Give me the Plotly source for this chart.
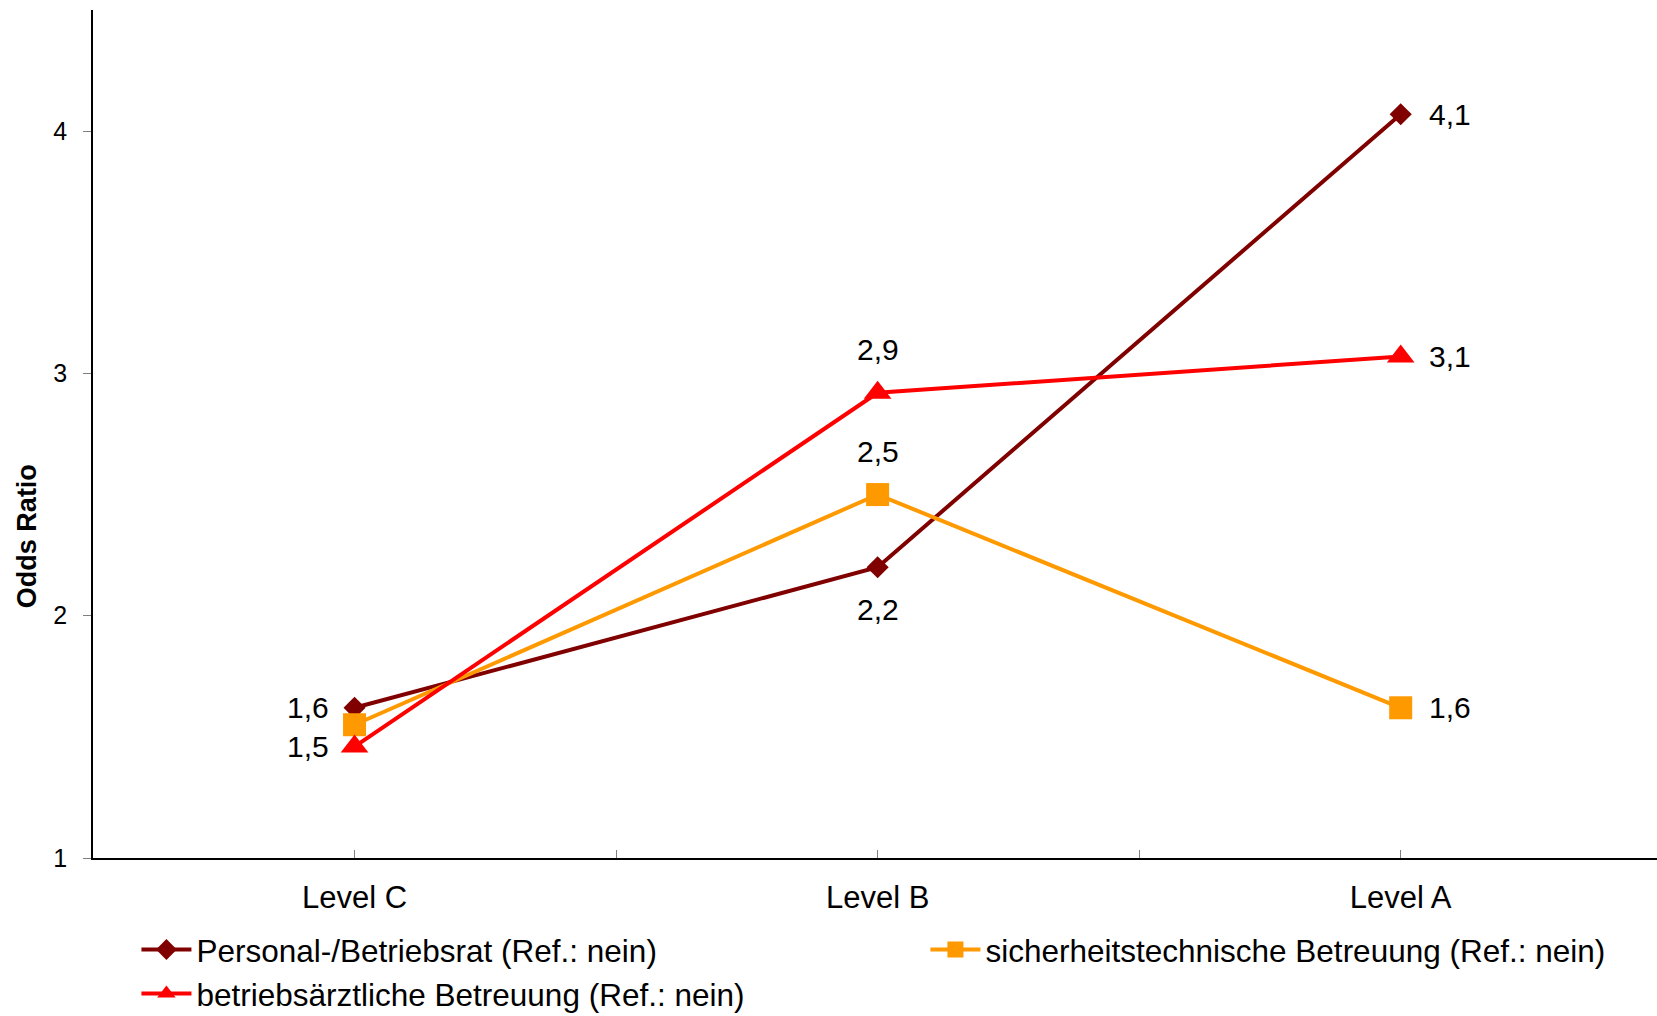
import plotly.graph_objects as go

categories = ["Level C", "Level B", "Level A"]
personal = [1.62, 2.20, 4.07]
sicherheit = [1.55, 2.50, 1.62]
betriebsarzt = [1.46, 2.92, 3.07]

names = ["Personal-/Betriebsrat (Ref.: nein)",
         "sicherheitstechnische Betreuung (Ref.: nein)",
         "betriebsärztliche Betreuung (Ref.: nein)"]
colors = ["#800000", "#FF9900", "#FF0000"]
symbols = ["diamond", "square", "triangle-up"]
msizes = [17, 23, 24]

# label placement per series/point: None = no label
label_pos = [
    ["left", "below", "right"],
    [None, "above", "right"],
    ["left", "above", "right"],
]

series = [personal, sicherheit, betriebsarzt]
FONT = "Arial, Liberation Sans, sans-serif"

fig = go.Figure()
for s, name, col, sym, ms in zip(series, names, colors, symbols, msizes):
    fig.add_trace(go.Scatter(
        x=categories, y=s, name=name, mode="lines+markers",
        line=dict(color=col, width=4),
        marker=dict(symbol=sym, size=ms, color=col, line=dict(width=0)),
        xaxis="x", yaxis="y",
    ))

# invisible trace for the second (center-tick) axis
fig.add_trace(go.Scatter(x=categories, y=personal, xaxis="x2", yaxis="y",
                         mode="markers", marker=dict(opacity=0),
                         showlegend=False, hoverinfo="skip"))

for s, poss in zip(series, label_pos):
    for cat, v, p in zip(categories, s, poss):
        if p is None:
            continue
        txt = f"{v:.1f}".replace(".", ",")
        kw = dict(x=cat, y=v, text=txt, showarrow=False,
                  font=dict(family=FONT, size=30, color="black"))
        if p == "left":
            kw.update(xanchor="right", xshift=-24)
        elif p == "right":
            kw.update(xanchor="left", xshift=26)
        elif p == "above":
            kw.update(yshift=43)
        elif p == "below":
            kw.update(yshift=-42)
        fig.add_annotation(**kw)

fig.add_annotation(text="<b>Odds Ratio</b>", xref="paper", yref="paper",
                   x=-0.0425, y=0.379, xanchor="center", yanchor="middle",
                   textangle=-90, showarrow=False,
                   font=dict(family=FONT, size=27, color="black"))

fig.update_layout(
    width=1657, height=1016,
    margin=dict(l=93, r=0, t=10, b=158, autoexpand=False),
    paper_bgcolor="white", plot_bgcolor="white",
    font=dict(family=FONT, color="black"),
    showlegend=True,
    legend=dict(orientation="h", x=-0.001, xanchor="left", y=-0.023, yanchor="top",
                font=dict(family=FONT, size=31.5, color="black"),
                entrywidth=724, entrywidthmode="pixels",
                borderwidth=45, bordercolor="rgba(0,0,0,0)",
                tracegroupgap=0, itemwidth=50, bgcolor="rgba(0,0,0,0)"),
    xaxis=dict(type="category", categoryorder="array", categoryarray=categories,
               range=[-0.5, 2.49], showgrid=False, zeroline=False,
               showline=True, linecolor="black", linewidth=1.5,
               ticks="inside", tickson="boundaries", ticklen=8,
               tickcolor="#808080", tickwidth=1,
               tickfont=dict(family=FONT, size=31, color="black"),
               ticklabelstandoff=11),
    xaxis2=dict(type="category", categoryorder="array", categoryarray=categories,
                overlaying="x", matches="x", range=[-0.5, 2.49],
                showgrid=False, zeroline=False, showline=False,
                ticks="inside", ticklen=8, tickcolor="#808080", tickwidth=1,
                showticklabels=False, side="bottom", anchor="y"),
    yaxis=dict(range=[1, 4.5], tickvals=[1, 2, 3, 4], showgrid=False, zeroline=False,
               showline=True, linecolor="black", linewidth=1.5,
               ticks="outside", ticklen=8, tickcolor="#808080", tickwidth=1,
               tickfont=dict(family=FONT, size=25, color="black"),
               ticklabelstandoff=11),
)

fig.write_html("out.html")
